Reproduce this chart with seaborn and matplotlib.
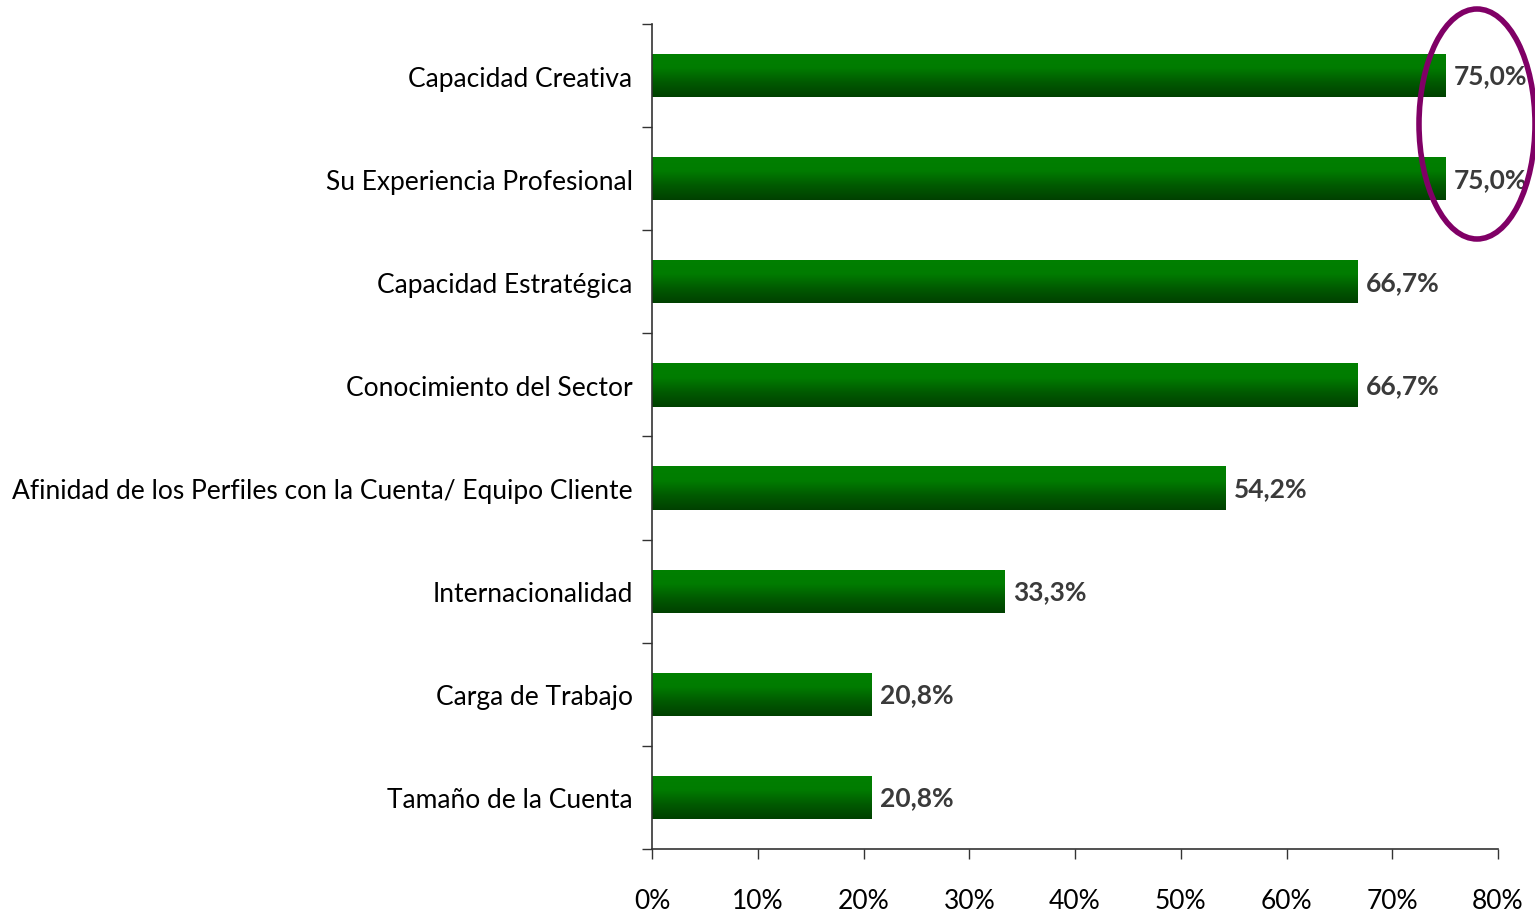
import numpy as np
import pandas as pd
import matplotlib
matplotlib.use("Agg")
import matplotlib.pyplot as plt
import seaborn as sns
from matplotlib.patches import Ellipse
from matplotlib.ticker import FixedLocator, FuncFormatter
from matplotlib.colors import LinearSegmentedColormap

categories = ["Capacidad Creativa", "Su Experiencia Profesional", "Capacidad Estratégica",
              "Conocimiento del Sector", "Afinidad de los Perfiles con la Cuenta/ Equipo Cliente",
              "Internacionalidad", "Carga de Trabajo", "Tamaño de la Cuenta"]
values = [75.0, 75.0, 66.7, 66.7, 54.2, 33.3, 20.8, 20.8]
xticks = [0, 10, 20, 30, 40, 50, 60, 70, 80]

sns.set_theme(style="white")
plt.rcParams['font.family'] = ['Lato', 'DejaVu Sans']

df = pd.DataFrame({"cat": categories, "val": values})
fig = plt.figure(figsize=(15.35, 9.12), dpi=100)
ax = fig.add_axes([0.4248, 0.068, 0.9759 - 0.4248, 0.9726 - 0.068])
sns.barplot(data=df, y="cat", x="val", orient="h", color="#006000", width=0.42, ax=ax)

# gradient fill
grad = np.linspace(0, 1, 256).reshape(-1, 1)
cmap = LinearSegmentedColormap.from_list("g", ["#008000", "#007c00", "#005a00", "#004000"])
for p in ax.patches:
    x0, y0 = p.get_x(), p.get_y()
    w, h = p.get_width(), p.get_height()
    p.set_facecolor("none")
    p.set_edgecolor("none")
    im = ax.imshow(grad, extent=[x0, x0 + w, y0 + h, y0], aspect="auto", cmap=cmap,
                   origin="upper", zorder=2)
    im.set_clip_path(p)
    ax.text(x0 + w + 0.8, y0 + h / 2, f"{w:.1f}%".replace(".", ","), va="center", ha="left",
            fontsize=19, fontweight="bold", color="#3a3a3a", zorder=3)
ax.set_xlim(0, 80)
ax.set_ylim(len(categories) - 0.5, -0.5)

ax.set_xlabel("")
ax.set_ylabel("")
ax.xaxis.set_major_locator(FixedLocator(xticks))
ax.xaxis.set_major_formatter(FuncFormatter(lambda v, _: f"{v:.0f}%"))
ax.tick_params(axis="x", direction="out", length=7, width=1, color="#333333",
               labelsize=19, pad=21, bottom=True, labelcolor="black")
ax.tick_params(axis="y", which="major", length=0, labelsize=19, pad=14, labelcolor="black")
ax.set_yticks(np.arange(-0.5, len(categories) + 0.5, 1), minor=True)
ax.tick_params(axis="y", which="minor", direction="out", length=7, width=1, color="#333333", left=True)

for s in ["top", "right"]:
    ax.spines[s].set_visible(False)
for s in ["left", "bottom"]:
    ax.spines[s].set_color("#333333")
    ax.spines[s].set_linewidth(1.2)
ax.grid(False)

# highlight ellipse around top two values
ell = Ellipse((1477 / 1535, 1 - 125 / 912), 116 / 1535, 230 / 912, transform=fig.transFigure,
              fill=False, edgecolor="#800066", linewidth=4, clip_on=False, zorder=5)
fig.patches.append(ell)

fig.savefig("out.png", dpi=100)
